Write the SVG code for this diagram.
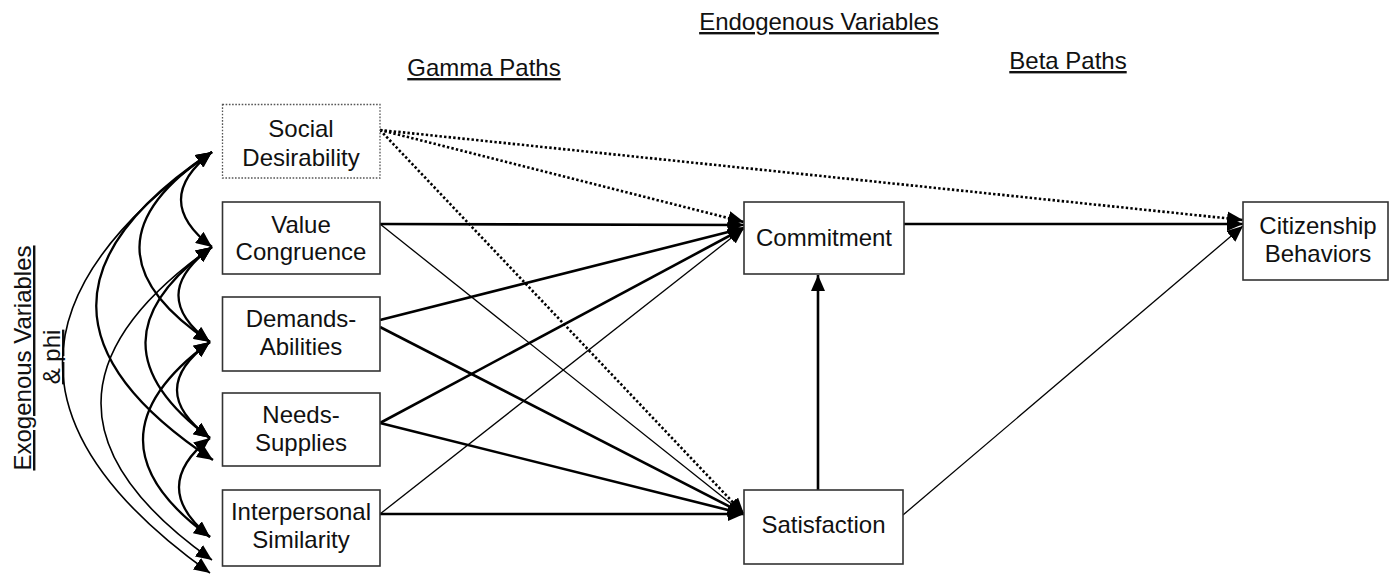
<svg xmlns="http://www.w3.org/2000/svg" width="1391" height="575" viewBox="0 0 1391 575">
<style>
.box{fill:#fff;stroke:#333;stroke-width:1.6}
.dbox{fill:#fff;stroke:#555;stroke-width:1.3;stroke-dasharray:1.6 1.6}
.t{font-family:"Liberation Sans",Arial,sans-serif;font-size:24px;fill:#111;text-anchor:middle}
.u{text-decoration:underline}
.thick{stroke:#000;stroke-width:2.6;fill:none;marker-end:url(#ah)}
.thin{stroke:#000;stroke-width:1.3;fill:none;marker-end:url(#ah)}
.dot{stroke:#000;stroke-width:2.6;fill:none;stroke-dasharray:2.4 2.2;marker-end:url(#ah)}
.cv{stroke:#000;stroke-width:2.3;fill:none;marker-start:url(#ah2);marker-end:url(#ah2)}
.cvt{stroke:#000;stroke-width:1.6;fill:none;marker-start:url(#ah2);marker-end:url(#ah2)}
</style>
<defs>
<marker id="ah" markerUnits="userSpaceOnUse" markerWidth="16" markerHeight="14" refX="16" refY="7" orient="auto" viewBox="0 0 16 14">
<path d="M0,0 L16,7 L0,14 Z" fill="#000"/>
</marker>
<marker id="ah2" markerUnits="userSpaceOnUse" markerWidth="16" markerHeight="14" refX="16" refY="7" orient="auto-start-reverse" viewBox="0 0 16 14">
<path d="M0,0 L16,7 L0,14 Z" fill="#000"/>
</marker>
</defs>
<rect width="1391" height="575" fill="#fff"/>

<g id="labels">
<text class="t u" x="819" y="30">Endogenous Variables</text>
<text class="t u" x="484" y="76">Gamma Paths</text>
<text class="t u" x="1068" y="69">Beta Paths</text>
<text class="t u" transform="translate(31,358) rotate(-90)" x="0" y="0">Exogenous Variables</text>
<text class="t u" transform="translate(60,357) rotate(-90)" x="0" y="0">&amp; phi</text>
</g>

<g id="connectors">
<path class="cv" d="M212,152 Q150,200 212,247"/>
<path class="cv" d="M212,247 Q146,295 210,342"/>
<path class="cv" d="M210,342 Q144,390 210,438"/>
<path class="cv" d="M210,438 Q148,487 210,537"/>
<path class="cv" d="M212,152 Q68,247 210,342"/>
<path class="cv" d="M212,247 Q80,342 210,438"/>
<path class="cv" d="M210,342 Q76,440 210,537"/>
<path class="cv" d="M212,152 Q-20,306 213,460"/>
<path class="cvt" d="M212,247 Q-10,403 212,560"/>
<path class="cvt" d="M212,152 Q-86,362 210,573"/>

<line class="dot" x1="380" y1="130" x2="744" y2="222"/>
<line class="dot" x1="380" y1="130" x2="744" y2="514"/>
<line class="dot" x1="380" y1="130" x2="1243" y2="220"/>

<line class="thick" x1="380" y1="224" x2="744" y2="225"/>
<line class="thin" x1="380" y1="224" x2="744" y2="514"/>
<line class="thick" x1="380" y1="320" x2="744" y2="228"/>
<line class="thick" x1="380" y1="327" x2="744" y2="514"/>
<line class="thick" x1="380" y1="423" x2="744" y2="228"/>
<line class="thick" x1="380" y1="423" x2="744" y2="514"/>
<line class="thin" x1="380" y1="514" x2="744" y2="228"/>
<line class="thick" x1="380" y1="514" x2="744" y2="514"/>

<line class="thick" x1="818" y1="490" x2="818" y2="275"/>
<line class="thick" x1="904" y1="224" x2="1243" y2="224"/>
<line class="thin" x1="903" y1="515" x2="1243" y2="226"/>
</g>

<g id="social-desirability">
<rect class="dbox" x="222.5" y="104.5" width="157.5" height="73.5"/>
<text class="t" x="301" y="137">Social</text>
<text class="t" x="301" y="166">Desirability</text>
</g>
<g id="value-congruence">
<rect class="box" x="222.5" y="202" width="157.5" height="72"/>
<text class="t" x="301" y="233">Value</text>
<text class="t" x="301" y="260">Congruence</text>
</g>
<g id="demands-abilities">
<rect class="box" x="222.5" y="297" width="157.5" height="74"/>
<text class="t" x="301" y="327">Demands-</text>
<text class="t" x="301" y="355">Abilities</text>
</g>
<g id="needs-supplies">
<rect class="box" x="222.5" y="393" width="157.5" height="73"/>
<text class="t" x="301" y="423">Needs-</text>
<text class="t" x="301" y="451">Supplies</text>
</g>
<g id="interpersonal-similarity">
<rect class="box" x="222.5" y="490" width="157.5" height="76"/>
<text class="t" x="301" y="520">Interpersonal</text>
<text class="t" x="301" y="548">Similarity</text>
</g>
<g id="commitment">
<rect class="box" x="744" y="202" width="160" height="72"/>
<text class="t" x="824" y="246">Commitment</text>
</g>
<g id="satisfaction">
<rect class="box" x="744" y="490" width="159" height="74"/>
<text class="t" x="823.5" y="533">Satisfaction</text>
</g>
<g id="citizenship-behaviors">
<rect class="box" x="1243" y="202" width="145" height="78"/>
<text class="t" x="1318" y="234">Citizenship</text>
<text class="t" x="1318" y="262">Behaviors</text>
</g>
</svg>
